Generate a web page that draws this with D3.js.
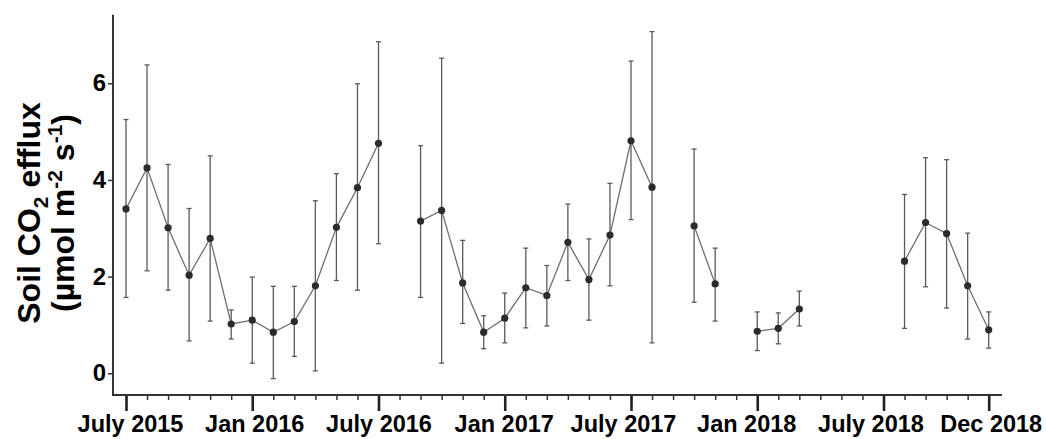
<!DOCTYPE html>
<html>
<head>
<meta charset="utf-8">
<script src="https://cdn.jsdelivr.net/npm/d3@7"></script>
<style>
  html, body { margin: 0; padding: 0; background: #fff; }
  svg { display: block; font-family: "Liberation Sans", Arial, sans-serif; }
</style>
</head>
<body>
<div id="chart"></div>
<script>
// monthly soil CO2 efflux, July 2015 (index 0) to Dec 2018 (index 41); null = no sampling
const monthIndex = d3.range(0, 42);
const meanFlux = [3.40, 4.25, 3.01, 2.03, 2.79, 1.02, 1.10, 0.85, 1.07, 1.81, 3.02, 3.84, 4.76,
  null, 3.15, 3.37, 1.87, 0.85, 1.14, 1.77, 1.61, 2.71, 1.94, 2.86, 4.81, 3.85,
  null, 3.05, 1.85, null, 0.87, 0.93, 1.33, null, null, null, null,
  2.32, 3.12, 2.89, 1.81, 0.90];
const upperFlux = [5.25, 6.38, 4.32, 3.41, 4.50, 1.31, 1.99, 1.80, 1.80, 3.57, 4.13, 5.99, 6.86,
  null, 4.71, 6.52, 2.75, 1.19, 1.66, 2.59, 2.23, 3.50, 2.78, 3.93, 6.46, 7.07,
  null, 4.64, 2.59, null, 1.27, 1.25, 1.70, null, null, null, null,
  3.70, 4.46, 4.42, 2.90, 1.27];
const lowerFlux = [1.57, 2.12, 1.72, 0.67, 1.08, 0.71, 0.21, -0.11, 0.35, 0.05, 1.92, 1.72, 2.68,
  null, 1.57, 0.21, 1.03, 0.51, 0.63, 0.94, 0.98, 1.92, 1.10, 1.81, 3.18, 0.63,
  null, 1.47, 1.08, null, 0.47, 0.61, 0.98, null, null, null, null,
  0.93, 1.79, 1.35, 0.71, 0.52];

const majorTicks = [0, 6, 12, 18, 24, 30, 36, 41];
const majorLabels = ['July 2015', 'Jan 2016', 'July 2016', 'Jan 2017', 'July 2017', 'Jan 2018', 'July 2018', 'Dec 2018'];
const yTicks = [0, 2, 4, 6];

const width = 1046, height = 439;
const svg = d3.select('#chart').append('svg')
  .attr('width', width)
  .attr('height', height);

const x = d3.scaleLinear().domain([0, 41]).range([126, 988.7]);
const y = d3.scaleLinear().domain([0, 6]).range([373.3, 83.3]);

const axisLeftX = 113, axisBottomY = 395;
const xEnd = x(41.63), yTop = y(7.42);
// the original labels sit a little off their ticks in places
const labelNudge = [4, 2, 0, -1, -8, -11, -13, 2];

const data = monthIndex.map(i => ({ m: i, mean: meanFlux[i], hi: upperFlux[i], lo: lowerFlux[i] }));
const present = data.filter(d => d.mean != null);

// error bars
const eb = svg.append('g')
  .attr('stroke', '#5a5a5a')
  .attr('stroke-width', 1.3);
eb.selectAll('line.v').data(present).enter().append('line')
  .attr('x1', d => x(d.m)).attr('x2', d => x(d.m))
  .attr('y1', d => y(d.hi)).attr('y2', d => y(d.lo));
eb.selectAll('line.top').data(present).enter().append('line')
  .attr('x1', d => x(d.m) - 2.5).attr('x2', d => x(d.m) + 2.5)
  .attr('y1', d => y(d.hi)).attr('y2', d => y(d.hi));
eb.selectAll('line.bot').data(present).enter().append('line')
  .attr('x1', d => x(d.m) - 2.5).attr('x2', d => x(d.m) + 2.5)
  .attr('y1', d => y(d.lo)).attr('y2', d => y(d.lo));

// connecting line, broken at missing months
const line = d3.line()
  .defined(d => d.mean != null)
  .x(d => x(d.m))
  .y(d => y(d.mean));
svg.append('path')
  .datum(data)
  .attr('fill', 'none')
  .attr('stroke', '#6e6e6e')
  .attr('stroke-width', 1.3)
  .attr('d', line);

svg.append('g').selectAll('circle')
  .data(present)
  .enter()
  .append('circle')
  .attr('cx', d => x(d.m))
  .attr('cy', d => y(d.mean))
  .attr('r', 3.6)
  .attr('fill', '#2b2b2b');

// x axis: minor monthly ticks + labelled major ticks
const minorAxis = d3.axisBottom(x).tickValues(monthIndex).tickSize(5).tickSizeOuter(0).tickFormat('');
const gMinor = svg.append('g').attr('transform', `translate(0,${axisBottomY})`).call(minorAxis);
gMinor.select('.domain').remove();
gMinor.selectAll('line').attr('stroke', '#333').attr('stroke-width', 1.5);

const majorAxis = d3.axisBottom(x).tickValues(majorTicks).tickSize(16).tickSizeOuter(0).tickPadding(4)
  .tickFormat((d, i) => majorLabels[i]);
const gMajor = svg.append('g').attr('transform', `translate(0,${axisBottomY})`).call(majorAxis);
gMajor.select('.domain').remove();
gMajor.selectAll('line').attr('stroke', '#222').attr('stroke-width', 2.6);
gMajor.selectAll('text')
  .attr('fill', '#000')
  .attr('dx', (d, i) => labelNudge[i])
  .style('font-size', '23.5px')
  .style('font-weight', 'bold')
  .style('font-family', '"Liberation Sans", Arial, sans-serif');

// y axis
const yAxis = d3.axisLeft(y).tickValues(yTicks).tickSize(5).tickSizeOuter(0).tickPadding(2)
  .tickFormat(d3.format('d'));
const gY = svg.append('g').attr('transform', `translate(${axisLeftX},0)`).call(yAxis);
gY.select('.domain').remove();
gY.selectAll('line').attr('stroke', '#333').attr('stroke-width', 1.5);
gY.selectAll('text')
  .attr('fill', '#000')
  .style('font-size', '24px')
  .style('font-weight', 'bold')
  .style('font-family', '"Liberation Sans", Arial, sans-serif');

// axis lines
svg.append('line')
  .attr('x1', axisLeftX).attr('x2', axisLeftX)
  .attr('y1', yTop).attr('y2', axisBottomY + 1)
  .attr('stroke', '#333').attr('stroke-width', 2);
svg.append('line')
  .attr('x1', axisLeftX).attr('x2', xEnd)
  .attr('y1', axisBottomY).attr('y2', axisBottomY)
  .attr('stroke', '#333').attr('stroke-width', 2);

// y axis title, two lines
const title = svg.append('g')
  .attr('transform', 'translate(0,213) rotate(-90)')
  .style('font-size', '32px')
  .style('font-weight', 'bold')
  .attr('fill', '#000')
  .attr('text-anchor', 'middle');

const t1 = title.append('text').attr('x', 0).attr('y', 40);
t1.append('tspan').text('Soil CO');
t1.append('tspan').text('2').style('font-size', '21px').attr('dy', 8);
t1.append('tspan').text(' efflux').attr('dy', -8);

const t2 = title.append('text').attr('x', 0).attr('y', 74);
t2.append('tspan').text('(µmol m');
t2.append('tspan').text('-2').style('font-size', '21px').attr('dy', -12);
t2.append('tspan').text(' s').attr('dy', 12);
t2.append('tspan').text('-1').style('font-size', '21px').attr('dy', -12);
t2.append('tspan').text(')').attr('dy', 12);
</script>
</body>
</html>
